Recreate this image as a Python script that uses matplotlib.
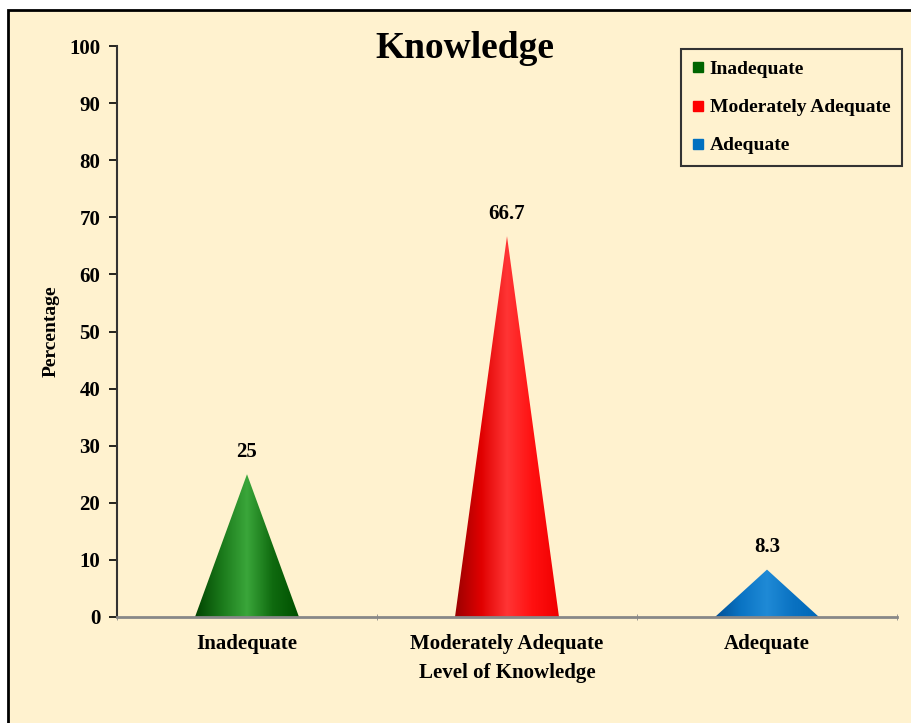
import numpy as np
import matplotlib.pyplot as plt
from matplotlib.patches import Polygon, Rectangle
from matplotlib.lines import Line2D
from matplotlib.colors import LinearSegmentedColormap

# data
levels = ['Inadequate', 'Moderately Adequate', 'Adequate']
percent = [25, 66.7, 8.3]
labels = ['25', '66.7', '8.3']
colors = ['#006400', '#ff0000', '#0070c0']
# shading per cone: dark edge -> highlight -> base colour
shades = [
    ['#004400', '#1a781a', '#3aa63a', '#0f6a0f', '#005000'],
    ['#9a0000', '#e00000', '#ff3535', '#ff1010', '#f00000'],
    ['#004f96', '#0a74c4', '#1f8ad6', '#0a72c2', '#0068b8'],
]

plt.rcParams['font.family'] = ['Liberation Serif', 'DejaVu Serif']
plt.rcParams['font.weight'] = 'bold'

fig = plt.figure(figsize=(9.12, 7.23), dpi=100)
fig.patch.set_facecolor('white')
cream = '#fff2cf'
fig.patches.append(Rectangle((8 / 912, -0.05), 1.1, (723 - 10) / 723 + 0.05,
                             transform=fig.transFigure, facecolor=cream,
                             edgecolor='black', lw=2, zorder=-10))

ax = fig.add_axes([117 / 912, 106 / 723, 780 / 912, 571 / 723])
ax.set_facecolor('none')

w = 0.4
for i, (v, sh) in enumerate(zip(percent, shades)):
    tri = Polygon([[i - w / 2, 0], [i, v], [i + w / 2, 0]], closed=True,
                  facecolor='none', edgecolor='none')
    ax.add_patch(tri)
    cmap = LinearSegmentedColormap.from_list('c%d' % i, sh)
    grad = np.linspace(0, 1, 256).reshape(1, -1)
    im = ax.imshow(grad, cmap=cmap, extent=[i - w / 2, i + w / 2, 0, v],
                   aspect='auto', zorder=2, interpolation='bilinear')
    im.set_clip_path(tri)
    ax.annotate(labels[i], (i, v), xytext=(0, 9), textcoords='offset points',
                ha='center', va='bottom', fontsize=15, fontweight='bold')

ax.set_xlim(-0.5, 2.5)
ax.set_ylim(0, 100)
ax.set_yticks(range(0, 101, 10))
ax.set_xticks(range(3))
ax.set_xticklabels(levels, fontsize=15, fontweight='bold')
ax.set_xticks([-0.5, 0.5, 1.5, 2.5], minor=True)
ax.tick_params(axis='x', which='major', length=0, pad=12)
ax.tick_params(axis='x', which='minor', length=4, color='#888888', direction='inout')
ax.tick_params(axis='y', labelsize=15, length=6, width=1.2, pad=6)
for t in ax.get_yticklabels():
    t.set_fontweight('bold')

for s in ['top', 'right']:
    ax.spines[s].set_visible(False)
ax.spines['left'].set_color('#333333')
ax.spines['left'].set_linewidth(1.5)
ax.spines['bottom'].set_color('#888888')
ax.spines['bottom'].set_linewidth(2)

ax.set_ylabel('Percentage', fontsize=14, fontweight='bold')
ax.set_xlabel('Level of Knowledge', fontsize=15, fontweight='bold', labelpad=7)
ax.yaxis.set_label_coords(-0.074, 0.5)
fig.text(465 / 912, (723 - 49) / 723, 'Knowledge', fontsize=27, fontweight='bold',
         ha='center', va='center')

handles = [Line2D([], [], marker='s', linestyle='none', markersize=7,
                  markerfacecolor=c, markeredgecolor=c) for c in colors]
leg = fig.legend(handles, levels, loc='upper right',
                 bbox_to_anchor=(902 / 912, (723 - 49) / 723),
                 prop={'family': 'Liberation Serif', 'weight': 'bold', 'size': 14},
                 fancybox=False, framealpha=1, facecolor=cream, edgecolor='#333333',
                 handlelength=0.6, handletextpad=0.3, labelspacing=1.05,
                 borderpad=0.6, borderaxespad=0)
leg.get_frame().set_linewidth(1.5)

fig.savefig('out.png', dpi=100, facecolor=fig.get_facecolor())
